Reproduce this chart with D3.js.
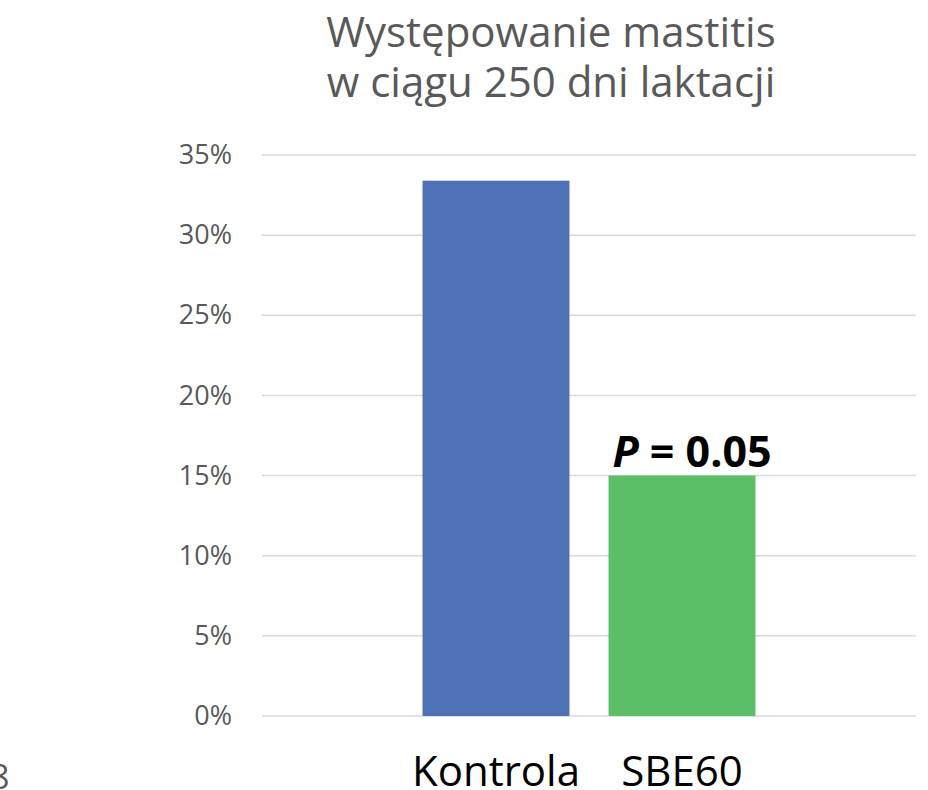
<!DOCTYPE html>
<html>
<head>
<meta charset="utf-8">
<script src="https://cdn.jsdelivr.net/npm/d3@7"></script>
<style>
  body { margin: 0; background: #fff; }
  svg { display: block; font-family: "Open Sans", sans-serif; }
</style>
</head>
<body>
<div id="chart"></div>
<script>
// data
var categories = ['Kontrola', 'SBE60'];
var values = [0.334, 0.15];
var colors = ['#4e70b5', '#5cbe66'];
var yTicks = [0, 0.05, 0.10, 0.15, 0.20, 0.25, 0.30, 0.35];
var titleLines = ['Występowanie mastitis', 'w ciągu 250 dni laktacji'];
var pLabel = '= 0.05';

var width = 928, height = 790;
var plot = {left: 262, right: 916, top: 155, bottom: 716};

var svg = d3.select('#chart')
    .append('svg')
    .attr('width', width)
    .attr('height', height);

var y = d3.scaleLinear().domain([0, 0.35]).range([plot.bottom, plot.top]);
var x = d3.scaleBand()
    .domain(categories)
    .range([plot.left, plot.right])
    .paddingInner(0.21)
    .paddingOuter(0.863);

// gridlines
svg.append('g')
    .selectAll('line')
    .data(yTicks)
    .enter()
    .append('line')
    .attr('x1', plot.left)
    .attr('x2', plot.right)
    .attr('y1', d => y(d))
    .attr('y2', d => y(d))
    .attr('stroke', '#d9d9d9')
    .attr('stroke-width', 1.5);

// y axis labels
var yAxis = d3.axisLeft(y)
    .tickValues(yTicks)
    .tickFormat(d3.format('.0%'))
    .tickSize(0)
    .tickPadding(30);

var yg = svg.append('g')
    .attr('transform', 'translate(' + plot.left + ',0)')
    .call(yAxis);
yg.select('.domain').remove();
yg.selectAll('text')
    .attr('fill', '#595959')
    .style('font-family', '"Open Sans", sans-serif')
    .style('font-size', '27px');

// bars
svg.append('g')
    .selectAll('rect')
    .data(values)
    .enter()
    .append('rect')
    .attr('x', (d, i) => x(categories[i]))
    .attr('y', d => y(d))
    .attr('width', x.bandwidth())
    .attr('height', d => y(0) - y(d))
    .attr('fill', (d, i) => colors[i]);

// P value label above second bar
var pText = svg.append('text')
    .attr('x', x(categories[1]) + x.bandwidth()/2 + 10)
    .attr('y', y(values[1]) - 9)
    .attr('text-anchor', 'middle')
    .style('font-size', '43px')
    .style('font-weight', 'bold')
    .attr('fill', '#000');
pText.append('tspan').style('font-style', 'italic').text('P');
pText.append('tspan').text(' ' + pLabel);

// category labels
svg.append('g')
    .selectAll('text')
    .data(categories)
    .enter()
    .append('text')
    .attr('x', d => x(d) + x.bandwidth()/2)
    .attr('y', 786)
    .attr('text-anchor', 'middle')
    .style('font-size', '42px')
    .attr('fill', '#000')
    .text(d => d);

// title
svg.append('g')
    .selectAll('text')
    .data(titleLines)
    .enter()
    .append('text')
    .attr('x', 551)
    .attr('y', (d, i) => 47 + i*50)
    .attr('text-anchor', 'middle')
    .style('font-size', '42px')
    .attr('fill', '#595959')
    .text(d => d);

// slide number, cut at the left edge
svg.append('text')
    .attr('x', -10)
    .attr('y', 789)
    .style('font-size', '34px')
    .attr('fill', '#595959')
    .text('8');
</script>
</body>
</html>
